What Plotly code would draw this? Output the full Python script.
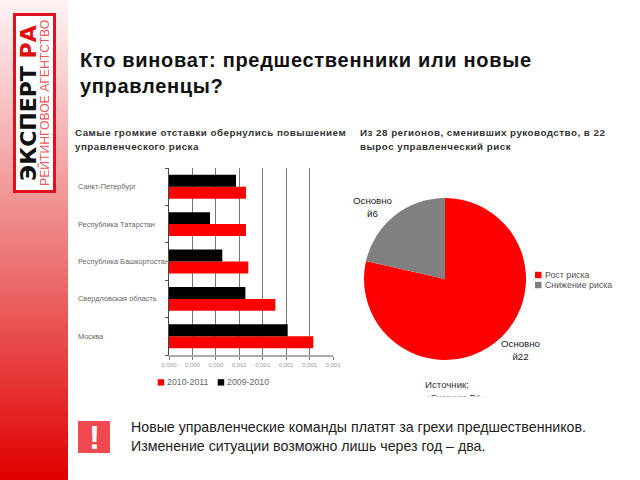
import base64
import plotly.graph_objects as go

regions = ["Москва", "Свердловская область", "Республика Башкортостан", "Республика Татарстан", "Санкт-Петербург"]
risk_2010_2011 = [0.001232, 0.000908, 0.000677, 0.000657, 0.000657]
risk_2009_2010 = [0.001013, 0.000652, 0.000455, 0.000350, 0.000572]
x_tick_values = [0, 0.0002, 0.0004, 0.0006, 0.0008, 0.0010, 0.0012, 0.0014]
x_tick_labels = ["0,000", "0,000", "0,000", "0,001", "0,001", "0,001", "0,001", "0,001"]
bar_series = ["2010-2011", "2009-2010"]
bar_colors = ["#ff0000", "#000000"]

pie_labels = ["Рост риска", "Снижение риска"]
pie_values = [22, 6]
pie_colors = ["#ff0000", "#808080"]

W, H = 640, 480
def px(x): return x / W
def py(y): return 1 - y / H

fig = go.Figure()
fig.add_trace(go.Bar(y=regions, x=risk_2010_2011, name=bar_series[0], orientation="h",
                     marker=dict(color=bar_colors[0], line_width=0)))
fig.add_trace(go.Bar(y=regions, x=risk_2009_2010, name=bar_series[1], orientation="h",
                     marker=dict(color=bar_colors[1], line_width=0)))
fig.add_trace(go.Pie(labels=pie_labels, values=pie_values, sort=False, direction="clockwise", rotation=0,
                     marker=dict(colors=pie_colors, line_width=0), textinfo="none",
                     domain=dict(x=[px(364), px(526)], y=[py(360), py(198)])))

svg = ('<svg xmlns="http://www.w3.org/2000/svg" width="68" height="480" preserveAspectRatio="none">'
       '<defs><linearGradient id="g" x1="0" y1="0" x2="0" y2="1">'
       '<stop offset="0" stop-color="#fff4f4"/><stop offset="0.5" stop-color="#ee8080"/>'
       '<stop offset="1" stop-color="#e00000"/></linearGradient></defs>'
       '<rect width="68" height="480" fill="url(#g)"/></svg>')
band = "data:image/svg+xml;base64," + base64.b64encode(svg.encode()).decode()

SANS = "Liberation Sans"
def spaced(text, em):
    return f'<span style="letter-spacing:{em}px">{text}</span>'

def note(x, y, text, size, color="#000000", bold=False, anchor="left", vanchor="middle", angle=0, family=SANS, **kw):
    return dict(x=px(x), y=py(y), xref="paper", yref="paper", text=f"<b>{text}</b>" if bold else text,
                showarrow=False, xanchor=anchor, yanchor=vanchor, textangle=angle,
                font=dict(size=size, color=color, family=family), align=kw.pop("align", "left"),
                borderpad=0, **kw)

def swatch(x, y, color):
    return dict(type="rect", xref="paper", yref="paper", x0=px(x), x1=px(x + 6.5), y0=py(y + 3.2), y1=py(y - 3.2),
                fillcolor=color, line_width=0)

annotations = [
    note(79, 60, spaced("Кто виноват: предшественники или новые", 0.7), 20, "#111111", True),
    note(79, 86, spaced("управленцы?", 0.7), 20, "#111111", True),
    note(74, 132, spaced("Самые громкие отставки обернулись повышением", 0.48), 9.8, "#333333", True),
    note(74, 146, spaced("управленческого риска", 0.48), 9.8, "#333333", True),
    note(359, 132, spaced("Из 28 регионов, сменивших руководство, в 22", 0.48), 9.8, "#333333", True),
    note(359, 146, spaced("вырос управленческий риск", 0.48), 9.8, "#333333", True),
    note(130, 427, "Новые управленческие команды платят за грехи предшественников.", 14.2, "#222222"),
    note(130, 446, "Изменение ситуации возможно лишь через год – два.", 14.2, "#222222"),
    note(94, 437, "!", 33, "#ffffff", True, anchor="center"),
    note(520, 350, "Основно<br>й" + str(pie_values[0]), 9.7, "#222222", anchor="center", align="center"),
    note(372, 207, "Основно<br>й" + str(pie_values[1]), 9.7, "#222222", anchor="center", align="center"),
    note(424, 384, "Источник:", 9.7, "#333333"),
    note(424, 397, "«Эксперт РА»", 9.7, "#333333"),
    dict(x=px(420), y=py(396), xref="paper", yref="paper", xanchor="left", yanchor="top", text=" ",
         showarrow=False, bgcolor="#ffffff", width=70, height=12, font=dict(size=9)),
    note(28, 103, '<b>ЭКСПЕРТ <span style="color:#e01010">РА</span></b>', 22, "#111111", anchor="center", angle=-90,
         family="DejaVu Sans"),
    note(44, 103, "РЕЙТИНГОВОЕ АГЕНТСТВО", 12.2, "#e8585c", anchor="center", angle=-90),
]
for name in regions:
    annotations.append(dict(x=px(75.5), xref="paper", y=name, yref="y", text=name, showarrow=False,
                            xanchor="left", font=dict(size=7.4, color="#666666", family=SANS)))

shapes = [
    dict(type="rect", xref="paper", yref="paper", x0=px(14.5), x1=px(54.5), y0=py(191.5), y1=py(14.5),
         fillcolor="#ffffff", line=dict(color="#e01020", width=3)),
    dict(type="rect", xref="paper", yref="paper", x0=px(78), x1=px(110), y0=py(453), y1=py(421),
         fillcolor="#f04a50", line_width=0),
]

for x, name, color in zip([157.7, 217.7], bar_series, bar_colors):
    shapes.append(swatch(x, 382.4, color))
    annotations.append(note(x + 8.5, 382.4, name, 8.8, "#666666"))
for y, name, color in zip([275, 285], pie_labels, pie_colors):
    shapes.append(swatch(535, y, color))
    annotations.append(note(544, y, name, 8.8, "#555555"))

fig.update_layout(
    width=W, height=H, autosize=False, margin=dict(l=0, r=0, t=0, b=0, autoexpand=False),
    paper_bgcolor="#ffffff", plot_bgcolor="#ffffff", showlegend=False,
    barmode="group", bargap=0.36, bargroupgap=0,
    font=dict(family=SANS),
    xaxis=dict(domain=[px(169), px(333)], range=[0, 0.0014], tickvals=x_tick_values, ticktext=x_tick_labels,
               showgrid=True, gridcolor="#777777", gridwidth=1, zeroline=False, showline=True,
               linecolor="#aaaaaa", linewidth=1.5, ticks="outside", ticklen=3, tickcolor="#777777",
               tickangle=0, tickfont=dict(size=6, color="#999999")),
    yaxis=dict(domain=[py(355), py(168)], type="category", showticklabels=False, showline=True, linecolor="#444444",
               linewidth=1, ticks="outside", ticklen=3, tickson="boundaries", tickcolor="#555555", showgrid=False),
    images=[dict(source=band, xref="paper", yref="paper", x=0, y=1, sizex=px(68), sizey=1,
                 xanchor="left", yanchor="top", sizing="stretch", layer="below")],
    annotations=annotations, shapes=shapes,
)
fig.write_html("out.html", config=dict(displayModeBar=False),
               post_script="document.body.style.margin='0';")
